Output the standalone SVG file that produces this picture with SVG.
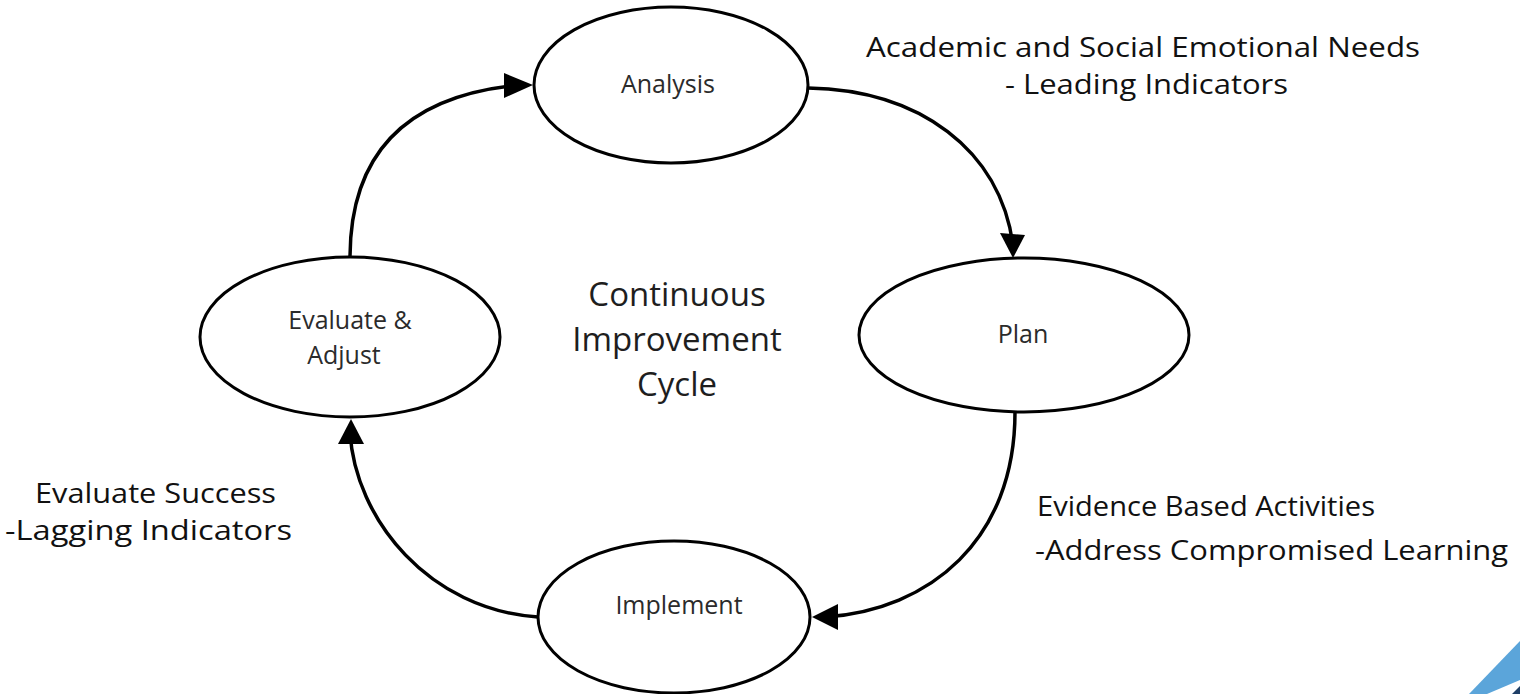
<svg xmlns="http://www.w3.org/2000/svg" width="1520" height="694" viewBox="0 0 1520 694">
  <defs>
    <style>
      .node ellipse { fill: #fff; stroke: #000; stroke-width: 3; }
      .node text { font-family: "Open Sans", "Liberation Sans", sans-serif; font-size: 25px; fill: #2b2b2b; text-anchor: middle; }
      .title { font-family: "Open Sans", "Liberation Sans", sans-serif; font-size: 33px; fill: #1e1e1e; text-anchor: middle; }
      .note { font-family: "Open Sans", Lato, "Liberation Sans", sans-serif; font-size: 28px; fill: #111; }
      .conn path { fill: none; stroke: #000; stroke-width: 3.5; }
    </style>
  </defs>
  <rect width="1520" height="694" fill="#fff"/>

  <!-- curved connectors around the cycle -->
  <g id="connectors" class="conn">
    <path d="M350,258 C350,150 410,95 520,85"/>
    <path d="M808,88 C920,90 1000,150 1013,245"/>
    <path d="M1015,412 C1015,540 930,610 825,617"/>
    <path d="M538,617 C430,610 355,520 350,432"/>
  </g>
  <!-- arrowheads -->
  <g id="arrowheads" fill="#000">
    <polygon points="533,85 504,73 504,98"/>
    <polygon points="1013,258 1000,233 1025,235"/>
    <polygon points="812,617 838,604 838,630"/>
    <polygon points="351,419 338,444 364,444"/>
  </g>

  <g id="analysis" class="node">
    <ellipse cx="671" cy="85" rx="137" ry="78"/>
    <text x="668" y="93">Analysis</text>
  </g>
  <g id="plan" class="node">
    <ellipse cx="1024" cy="335" rx="165" ry="77"/>
    <text x="1023" y="343">Plan</text>
  </g>
  <g id="implement" class="node">
    <ellipse cx="674" cy="617" rx="136" ry="76"/>
    <text x="679" y="614">Implement</text>
  </g>
  <g id="evaluate" class="node">
    <ellipse cx="350" cy="337" rx="150" ry="80"/>
    <text x="350" y="329">Evaluate &amp;</text>
    <text x="344" y="364">Adjust</text>
  </g>

  <g id="center-title">
    <text class="title" x="677" y="306">Continuous</text>
    <text class="title" x="677" y="351">Improvement</text>
    <text class="title" x="677" y="396">Cycle</text>
  </g>

  <g id="labels" class="note">
    <text x="866" y="57" textLength="554" lengthAdjust="spacingAndGlyphs">Academic and Social Emotional Needs</text>
    <text x="1005" y="94" textLength="283" lengthAdjust="spacingAndGlyphs">- Leading Indicators</text>
    <text x="35" y="503" textLength="241" lengthAdjust="spacingAndGlyphs">Evaluate Success</text>
    <text x="5" y="540" textLength="287" lengthAdjust="spacingAndGlyphs">-Lagging Indicators</text>
    <text x="1037" y="516" textLength="338" lengthAdjust="spacingAndGlyphs">Evidence Based Activities</text>
    <text x="1035" y="560" textLength="473" lengthAdjust="spacingAndGlyphs">-Address Compromised Learning</text>
  </g>

  <!-- corner accent -->
  <polygon points="1469,694 1520,641 1520,680 1487,694" fill="#5BA5DA"/>
  <polygon points="1512,694 1520,686 1520,694" fill="#1F3F66"/>
</svg>
